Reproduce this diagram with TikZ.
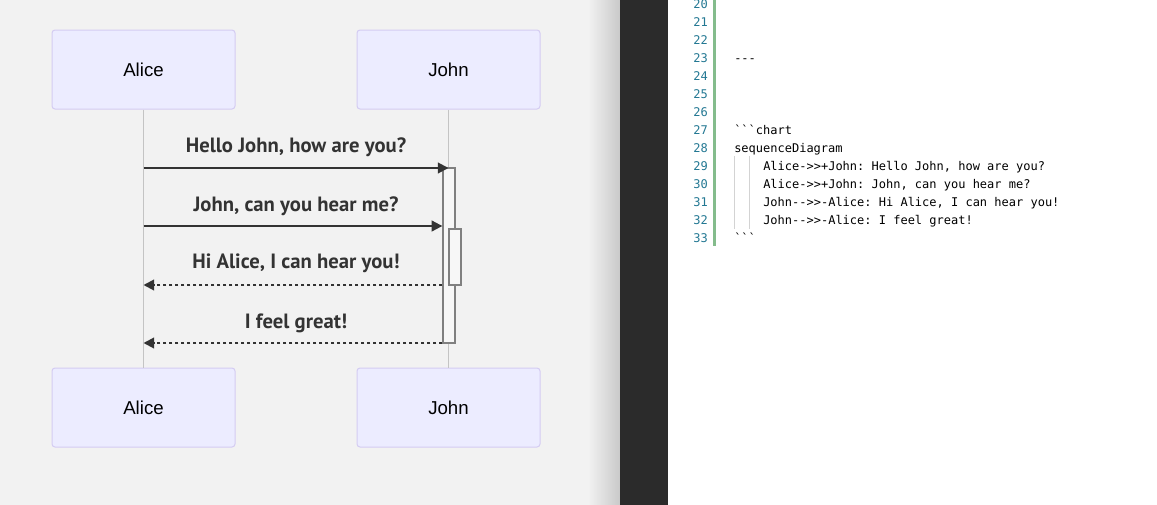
\documentclass[tikz,border=0pt]{standalone}
\usepackage{fontspec}
\setmainfont{Liberation Sans}
\setmonofont{DejaVu Sans Mono}
\newfontfamily\msgfont{PT Sans}
\usepackage[svgnames]{xcolor}
\usepackage{tikz}
\usetikzlibrary{
  arrows.meta
}
\definecolor{paneGrey}{HTML}{F2F2F2}
\definecolor{shadowGrey}{HTML}{C9C9C9}
\definecolor{editorDark}{HTML}{2B2B2B}
\definecolor{actorFill}{HTML}{ECECFF}
\definecolor{actorBorder}{HTML}{D4CCF2}
\definecolor{lifeGrey}{HTML}{C4C4C4}
\definecolor{msgInk}{HTML}{333333}
\definecolor{lineNo}{HTML}{237893}
\definecolor{gutterGreen}{HTML}{84BC8C}
\colorlet{activationFill}{paneGrey!60!white}
\colorlet{activationBorder}{Gray}
\colorlet{guideGrey}{LightGray}
\tikzset{
  actor/.style={draw=actorBorder, fill=actorFill, line width=0.75pt,
    rounded corners=2.25pt, minimum width=137.25pt, minimum height=59.25pt,
    font=\fontsize{14}{16}\selectfont, text=Black},
  lifeline/.style={draw=lifeGrey, line width=0.9pt},
  activation/.style={draw=activationBorder, fill=activationFill, line width=1pt,
    inner sep=0pt, minimum width=9pt},
  msg/.style={draw=msgInk, line width=1.5pt, -{Triangle[length=8pt,width=8pt]}},
  reply/.style={msg, dash pattern=on 2.25pt off 2.25pt},
  msglabel/.style={anchor=base, inner sep=0pt, text=msgInk,
    font=\msgfont\bfseries\fontsize{15.5}{18}\selectfont},
  lineno/.style={anchor=base east, inner sep=0pt, text=lineNo,
    font=\ttfamily\fontsize{9}{11}\selectfont},
  code/.style={anchor=base west, inner sep=0pt, text=Black,
    font=\ttfamily\fontsize{9}{11}\selectfont}
}

\begin{document}
\begin{tikzpicture}[x=0.75pt, y=-0.75pt]
\useasboundingbox (0,0) rectangle (1157,504);
\fill[paneGrey] (0,-1) rectangle (620,505);
\shade[left color=paneGrey, right color=shadowGrey] (588,-1) rectangle (620,505);
\fill[editorDark] (620,-1) rectangle (668,505);
\fill[white] (668,-1) rectangle (1158,505);

\node[actor] (aliceTop) at (143.5,69.5) {Alice};
\node[actor] (johnTop) at (448.5,69.5) {John};
\node[actor] (aliceBottom) at (143.5,407.5) {Alice};
\node[actor] (johnBottom) at (448.5,407.5) {John};
\draw[lifeline] (aliceTop) -- (aliceBottom);
\draw[lifeline] (johnTop) -- (johnBottom);

\node[activation, minimum height=131.25pt] (act1) at (449,255.5) {};
\node[activation, minimum height=42pt] (act2) at (455,257) {};

\coordinate (m1) at (0,168);
\coordinate (m2) at (0,226);
\coordinate (m3) at (0,285);
\coordinate (m4) at (0,343);
\draw[msg] (aliceTop |- m1) -- (johnTop |- m1);
\draw[msg] (aliceTop |- m2) -- (act1.west |- m2);
\draw[reply] (act1.west |- m3) -- (aliceTop |- m3);
\draw[reply] (act1.west |- m4) -- (aliceTop |- m4);
\node[msglabel] (hello) at (296,152.7) {Hello John, how are you?};
\node[msglabel] (hear) at (296,211.7) {John, can you hear me?};
\node[msglabel] (hiAlice) at (296,268) {Hi Alice, I can hear you!};
\node[msglabel] (great) at (296,328) {I feel great!};

\fill[gutterGreen] (713,-1) rectangle (716,246);
\draw[guideGrey, line width=0.75pt] (734,156) -- (734,229);
\draw[guideGrey, line width=0.75pt] (749,156) -- (749,229);
\foreach \n in {20,...,33}
  \node[lineno] (ln\n) at (708,{134+(\n-27)*18}) {\n};
\node[code] (c23) at (734,62) {-{}-{}-};
\node[code] (c27) at (734,134) {\textasciigrave\textasciigrave\textasciigrave chart};
\node[code] (c28) at (734,152) {sequenceDiagram};
\node[code] (c29) at (763,170) {Alice-{}>>+John: Hello John, how are you?};
\node[code] (c30) at (763,188) {Alice-{}>>+John: John, can you hear me?};
\node[code] (c31) at (763,206) {John-{}-{}>>-{}Alice: Hi Alice, I can hear you!};
\node[code] (c32) at (763,224) {John-{}-{}>>-{}Alice: I feel great!};
\node[code] (c33) at (734,242) {\textasciigrave\textasciigrave\textasciigrave};
\end{tikzpicture}
\end{document}
